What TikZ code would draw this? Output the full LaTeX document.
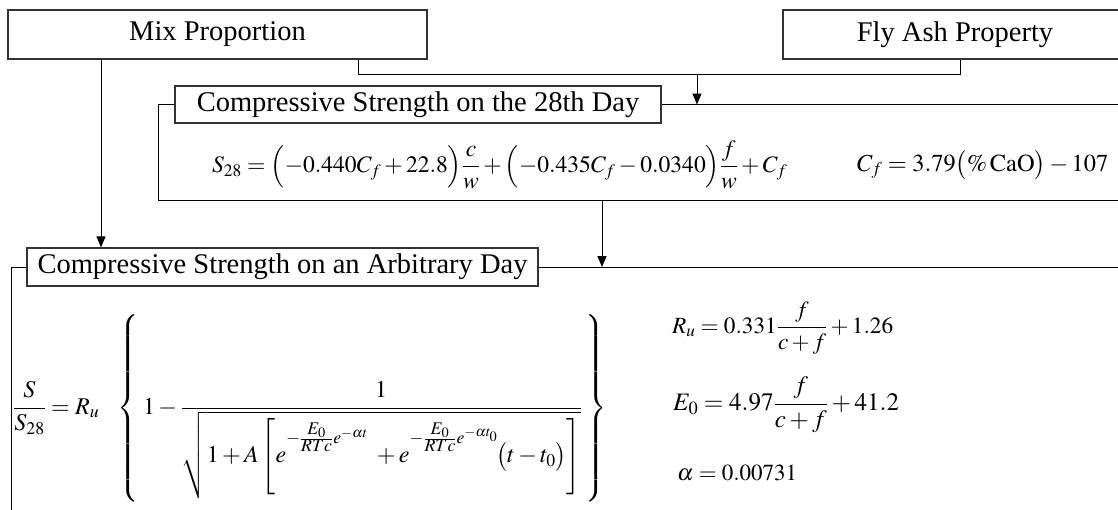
\documentclass[tikz,border=0pt]{standalone}
\usepackage{amsmath}
\usepackage{mathptmx}
\usepackage{graphicx}
\usepackage{fontspec}
\setmainfont{Liberation Serif}
\usetikzlibrary{arrows.meta}
\newcommand{\expo}[1]{\raisebox{12pt}{$\scriptstyle #1$}}
\newcommand{\tallbr}[1]{\vcenter{\hbox{\scalebox{1}[1.06]{$\Bigg#1$}}}}
\tikzset{
  box/.style={draw=black!80, line width=1.2pt, inner sep=0pt, font=\fontsize{28.5}{33}\selectfont},
  ln/.style={draw=black, line width=1pt},
  arr/.style={ln, -{Triangle[width=9pt,length=11pt]}},
  eq/.style={inner sep=0pt, anchor=west, font=\fontsize{24}{28}\selectfont}
}
\begin{document}
\begin{tikzpicture}[x=1pt,y=1pt]
\useasboundingbox (0,0) rectangle (1118,-509);
% top boxes
\node[box, minimum width=419pt, minimum height=49pt] (mix) at (217.5,-34.5) {Mix Proportion};
\node[box, minimum width=344pt, minimum height=49pt] (fly) at (955,-34.5) {Fly Ash Property};
% 28th day group
\node[box, minimum width=486pt, minimum height=37pt] (t28) at (418,-104.5) {Compressive Strength on the 28th Day};
\coordinate (j1) at (358,-74);
\coordinate (j2) at (960,-74);
\coordinate (a28) at (697,-74);
\draw[ln] (mix.south -| j1) -- (j1) -- (j2) -- (fly.south -| j2);
\draw[arr] (a28) -- (a28 |- t28.center);
\coordinate (f28tl) at (158,-104.5);
\coordinate (f28bl) at (158,-200);
\coordinate (f28br) at (1130,-200);
\coordinate (f28tr) at (1130,-104.5);
\draw[ln] (t28.west) -- (f28tl) -- (f28bl) -- (f28br);
\draw[ln] (t28.east) -- (f28tr);
\node[eq] (s28) at (212,-165) {\resizebox{575pt}{!}{$S_{28}=\Bigl(-0.440C_f+22.8\Bigr)\dfrac{c}{w}+\Bigl(-0.435C_f-0.0340\Bigr)\dfrac{f}{w}+C_f$}};
\node[eq] (cf) at (857,-165) {\resizebox{251pt}{!}{$C_f=3.79\bigl(\%\,\mathrm{CaO}\bigr)-107$}};
% arbitrary day group
\node[box, minimum width=511pt, minimum height=38pt] (tarb) at (282.5,-267) {Compressive Strength on an Arbitrary Day};
\coordinate (m2) at (101,-59);
\draw[arr] (m2) -- (m2 |- tarb.north);
\coordinate (a2) at (602,-200);
\draw[arr] (a2) -- (a2 |- tarb.center);
\coordinate (fatl) at (11,-267);
\coordinate (fabl) at (11,-520);
\coordinate (fatr) at (1130,-267);
\draw[ln] (tarb.west) -- (fatl) -- (fabl);
\draw[ln] (tarb.east) -- (fatr);
\node[eq] (big) at (13,-408) {$\displaystyle\frac{S}{S_{28}}=R_u\;\;\;\left\{\rule[-84pt]{0pt}{180pt}\right.1-\frac{1}{\sqrt{1+A\,\mathopen{\tallbr[}e^{\expo{-\frac{\scriptstyle E_0}{\scriptstyle RTc}e^{-\alpha t}}}\;+e^{\expo{-\frac{\scriptstyle E_0}{\scriptstyle RTc}e^{-\alpha t_0}}}\kern-2pt\bigl(t-t_0\bigr)\mathclose{\tallbr]}}}\left.\rule[-84pt]{0pt}{180pt}\right\}$};
\node[eq] (ru) at (672,-328) {\resizebox{221pt}{!}{$R_u=0.331\dfrac{f}{c+f}+1.26$}};
\node[eq] (e0) at (673,-405) {\resizebox{226pt}{!}{$E_0=4.97\dfrac{f}{c+f}+41.2$}};
\node[eq] (al) at (677,-473) {\resizebox{120pt}{!}{$\alpha=0.00731$}};
\end{tikzpicture}
\end{document}
